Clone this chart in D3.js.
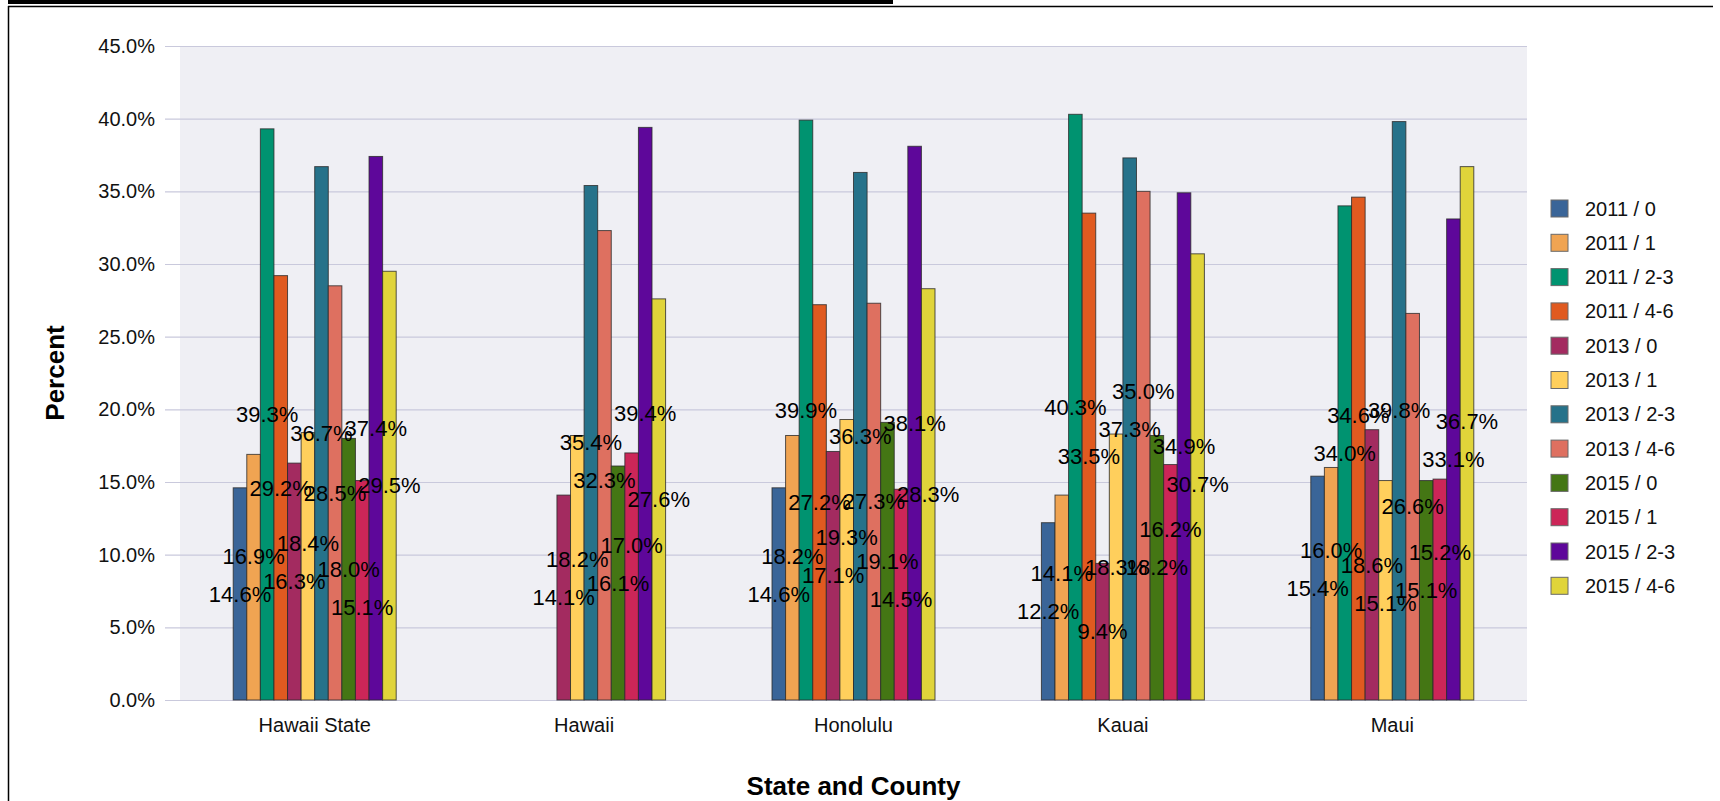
<!DOCTYPE html>
<html>
<head>
<meta charset="utf-8">
<script src="https://cdn.jsdelivr.net/npm/d3@7"></script>
<style>
  html, body { margin: 0; padding: 0; background: #ffffff; overflow: hidden; }
  svg { display: block; font-family: "Liberation Sans", Arial, Helvetica, sans-serif; }
</style>
</head>
<body>
<svg id="chart" width="1720" height="801"></svg>
<script>
// ---------- data ----------
const categories = ["Hawaii State", "Hawaii", "Honolulu", "Kauai", "Maui"];
const seriesNames = ["2011 / 0", "2011 / 1", "2011 / 2-3", "2011 / 4-6",
                     "2013 / 0", "2013 / 1", "2013 / 2-3", "2013 / 4-6",
                     "2015 / 0", "2015 / 1", "2015 / 2-3", "2015 / 4-6"];
const seriesColors = ["#3a6598", "#f0a452", "#009370", "#e05a20",
                      "#a32b60", "#ffcf5c", "#26728a", "#de7060",
                      "#447614", "#cc2658", "#5e079a", "#e0d43a"];
const valuesHawaiiState = [14.6, 16.9, 39.3, 29.2, 16.3, 18.4, 36.7, 28.5, 18.0, 15.1, 37.4, 29.5];
const valuesHawaii      = [null, null, null, null, 14.1, 18.2, 35.4, 32.3, 16.1, 17.0, 39.4, 27.6];
const valuesHonolulu    = [14.6, 18.2, 39.9, 27.2, 17.1, 19.3, 36.3, 27.3, 19.1, 14.5, 38.1, 28.3];
const valuesKauai       = [12.2, 14.1, 40.3, 33.5, 9.4, 18.3, 37.3, 35.0, 18.2, 16.2, 34.9, 30.7];
const valuesMaui        = [15.4, 16.0, 34.0, 34.6, 18.6, 15.1, 39.8, 26.6, 15.1, 15.2, 33.1, 36.7];
const yTicks = [0, 5, 10, 15, 20, 25, 30, 35, 40, 45];

const groupValues = [valuesHawaiiState, valuesHawaii, valuesHonolulu, valuesKauai, valuesMaui];

// ---------- layout ----------
const W = 1720, H = 801;
const plot = { left: 180, right: 1527, top: 46, bottom: 700 };
const svg = d3.select("#chart");

// frame + title remnant
svg.append("rect").attr("x", 8).attr("y", 0).attr("width", 885).attr("height", 4).attr("fill", "#000");
svg.append("line").attr("x1", 8).attr("x2", 1713).attr("y1", 6.5).attr("y2", 6.5)
   .attr("stroke", "#000").attr("stroke-width", 1.5);
svg.append("line").attr("x1", 8.5).attr("x2", 8.5).attr("y1", 6).attr("y2", H)
   .attr("stroke", "#000").attr("stroke-width", 1.5);

const y = d3.scaleLinear().domain([0, 45]).range([plot.bottom, plot.top]);
const x0 = d3.scaleBand().domain(categories).range([plot.left, plot.right])
             .paddingInner(0.395).paddingOuter(0.1975);
const x1 = d3.scaleBand().domain(seriesNames).range([0, x0.bandwidth()]).padding(0);
const color = d3.scaleOrdinal().domain(seriesNames).range(seriesColors);

// plot background
svg.append("rect").attr("x", plot.left).attr("y", plot.top)
   .attr("width", plot.right - plot.left).attr("height", plot.bottom - plot.top)
   .attr("fill", "#efeff4");

// y axis (gridlines + labels)
const yAxis = d3.axisLeft(y).tickValues(yTicks)
  .tickSize(plot.right - 165).tickPadding(10)
  .tickFormat(d => d3.format(".1f")(d) + "%");
const yg = svg.append("g").attr("transform", `translate(${plot.right},0)`).call(yAxis);
yg.select(".domain").remove();
yg.selectAll(".tick line").attr("stroke", "#c9c9dc").attr("stroke-width", 1.2);
yg.selectAll(".tick text").attr("font-size", 20).attr("fill", "#111")
  .attr("font-family", "'Liberation Sans', Arial, sans-serif");

// x axis labels
const xAxis = d3.axisBottom(x0).tickSize(0).tickPadding(18);
const xg = svg.append("g").attr("transform", `translate(0,${plot.bottom})`).call(xAxis);
xg.select(".domain").remove();
xg.selectAll(".tick text").attr("font-size", 20).attr("fill", "#111")
  .attr("font-family", "'Liberation Sans', Arial, sans-serif");

// bars
const groups = svg.append("g").selectAll("g").data(categories).join("g")
  .attr("transform", d => `translate(${x0(d)},0)`);

groups.each(function(cat, ci) {
  const vals = groupValues[ci];
  const g = d3.select(this);
  const rows = seriesNames.map((s, i) => ({ s, i, v: vals[i] })).filter(d => d.v != null);
  g.selectAll("rect").data(rows).join("rect")
    .attr("x", d => x1(d.s))
    .attr("y", d => y(d.v))
    .attr("width", x1.bandwidth())
    .attr("height", d => y(0) - y(d.v))
    .attr("fill", d => color(d.s))
    .attr("stroke", "#2a2a2a").attr("stroke-opacity", 0.8).attr("stroke-width", 1);
});

// value labels: centred at half the bar height, nudged apart from the previous label
const SEP = 38;
groups.each(function(cat, ci) {
  const vals = groupValues[ci];
  const g = d3.select(this);
  const placed = [];
  let prev = null;
  seriesNames.forEach((s, i) => {
    const v = vals[i];
    if (v == null) return;
    const y0 = y(v / 2);
    let yy = y0;
    if (prev && Math.abs(y0 - prev.y) < SEP) {
      if (v >= prev.v) {
        yy = prev.y - SEP;
      } else {
        const cand = prev.y + SEP;
        const clash = placed.some(p => p.i >= i - 4 && p.i <= i - 2 && Math.abs(cand - p.y) < SEP * 1.05);
        yy = clash ? prev.y - SEP : cand;
      }
    }
    const rec = { i, v, y: yy };
    placed.push(rec);
    prev = rec;
    g.append("text")
      .attr("x", x1(s) + x1.bandwidth() / 2)
      .attr("y", yy)
      .attr("dy", "0.35em")
      .attr("text-anchor", "middle")
      .attr("font-size", 22)
      .attr("fill", "#000")
      .text(d3.format(".1f")(v) + "%");
  });
});

// axis titles
svg.append("text").attr("x", (plot.left + plot.right) / 2).attr("y", 795)
   .attr("text-anchor", "middle").attr("font-size", 26).attr("font-weight", "bold")
   .attr("fill", "#000").text("State and County");
svg.append("text").attr("transform", `translate(64,${(plot.top + plot.bottom) / 2}) rotate(-90)`)
   .attr("text-anchor", "middle").attr("font-size", 26).attr("font-weight", "bold")
   .attr("fill", "#000").text("Percent");

// legend
const legend = svg.append("g").attr("transform", "translate(1551,200)");
const li = legend.selectAll("g").data(seriesNames).join("g")
  .attr("transform", (d, i) => `translate(0,${i * 34.3})`);
li.append("rect").attr("width", 17).attr("height", 17)
  .attr("fill", d => color(d)).attr("stroke", "#6a6a6a").attr("stroke-width", 1);
li.append("text").attr("x", 34).attr("y", 8.5).attr("dy", "0.35em")
  .attr("font-size", 20).attr("fill", "#111").text(d => d);
</script>
</body>
</html>
